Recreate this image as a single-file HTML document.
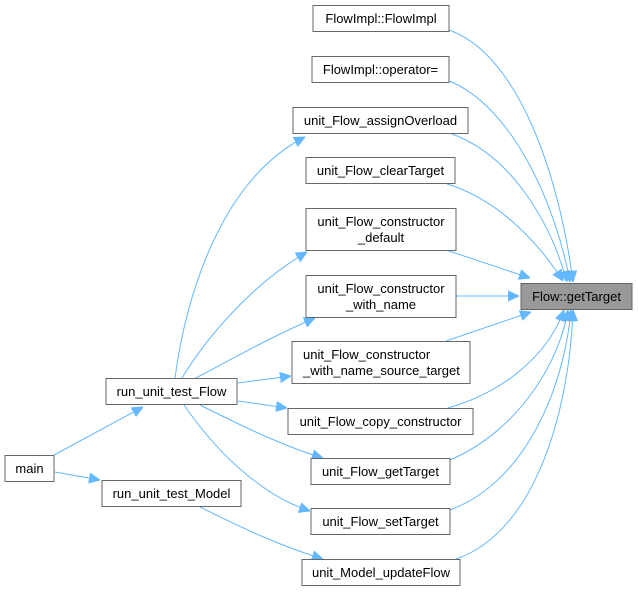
<!DOCTYPE html>
<html><head><meta charset="utf-8"><style>
body{margin:0;background:#fff;}
svg{display:block;}
text{font-family:"Liberation Sans",Arial,sans-serif;font-size:13px;fill:#000;}
.n{fill:#fff;stroke:#666;stroke-width:1;}
.e{fill:none;stroke:#63b8ff;stroke-width:1;}
</style></head><body>
<svg width="638" height="592" viewBox="0 0 638 592" xmlns="http://www.w3.org/2000/svg">
<defs><marker id="a" viewBox="0 0 11 11" refX="11" refY="5.5" markerWidth="11" markerHeight="11" markerUnits="userSpaceOnUse" orient="auto"><path d="M0,0.5 L11,5.5 L0,10.5z" fill="#63b8ff" stroke="#63b8ff"/></marker></defs>
<g class="e" marker-end="url(#a)">
<path d="M449,30 C520,55 560,180 573,282"/>
<path d="M449,81 C510,105 555,200 570,282"/>
<path d="M452,134 C510,155 550,220 567,282"/>
<path d="M447,184 C500,200 540,245 563,281"/>
<path d="M446,250 L530,278"/>
<path d="M456,296 L519,296"/>
<path d="M446,341 L531,312"/>
<path d="M448,408 C510,390 550,350 564,310"/>
<path d="M450,460 C520,430 560,360 568,310"/>
<path d="M450,510 C530,480 565,380 571,310"/>
<path d="M456,559 C540,530 570,400 573,310"/>
<path d="M54,455 L143,407"/>
<path d="M55,472 L100,480"/>
<path d="M175,378 C185,300 220,180 305,137"/>
<path d="M182,378 C205,340 250,285 307,252"/>
<path d="M196,378 C230,360 275,335 315,318"/>
<path d="M238,383 L291,376"/>
<path d="M238,401 L287,408"/>
<path d="M200,405 C240,425 280,445 323,458"/>
<path d="M184,405 C215,450 260,495 310,511"/>
<path d="M200,507 C240,527 280,546 323,559"/>
</g>
<rect class="n" x="313" y="5.5" width="136" height="26"/><text x="381" y="23" text-anchor="middle">FlowImpl::FlowImpl</text>
<rect class="n" x="312" y="56.5" width="137" height="26"/><text x="380.5" y="74" text-anchor="middle">FlowImpl::operator=</text>
<rect class="n" x="293" y="107.5" width="175" height="26"/><text x="380.5" y="125" text-anchor="middle">unit_Flow_assignOverload</text>
<rect class="n" x="306" y="157.5" width="149" height="26"/><text x="380.5" y="175" text-anchor="middle">unit_Flow_clearTarget</text>
<rect class="n" x="306" y="208.5" width="150" height="42"/><text x="381" y="226" text-anchor="middle">unit_Flow_constructor</text><text x="381" y="242" text-anchor="middle">_default</text>
<rect class="n" x="306" y="275.5" width="150" height="42"/><text x="381" y="293" text-anchor="middle">unit_Flow_constructor</text><text x="381" y="309" text-anchor="middle">_with_name</text>
<rect class="n" x="292" y="341.5" width="178" height="42"/><text x="303" y="359">unit_Flow_constructor</text><text x="303" y="375">_with_name_source_target</text>
<rect class="n" x="288" y="408.5" width="185" height="26"/><text x="380.5" y="426" text-anchor="middle">unit_Flow_copy_constructor</text>
<rect class="n" x="311" y="458.5" width="139" height="26"/><text x="380.5" y="476" text-anchor="middle">unit_Flow_getTarget</text>
<rect class="n" x="311" y="508.5" width="139" height="26"/><text x="380.5" y="526" text-anchor="middle">unit_Flow_setTarget</text>
<rect class="n" x="302" y="559.5" width="158" height="26"/><text x="381" y="577" text-anchor="middle">unit_Model_updateFlow</text>
<rect x="521" y="283.5" width="111" height="26" fill="#999" stroke="#666"/><text x="576.5" y="301" text-anchor="middle">Flow::getTarget</text>
<rect class="n" x="106" y="378.5" width="131" height="26"/><text x="171.5" y="396" text-anchor="middle">run_unit_test_Flow</text>
<rect class="n" x="5" y="455.5" width="49" height="26"/><text x="29.5" y="473" text-anchor="middle">main</text>
<rect class="n" x="102" y="480.5" width="139" height="26"/><text x="171.5" y="498" text-anchor="middle">run_unit_test_Model</text>
</svg>
</body></html>
